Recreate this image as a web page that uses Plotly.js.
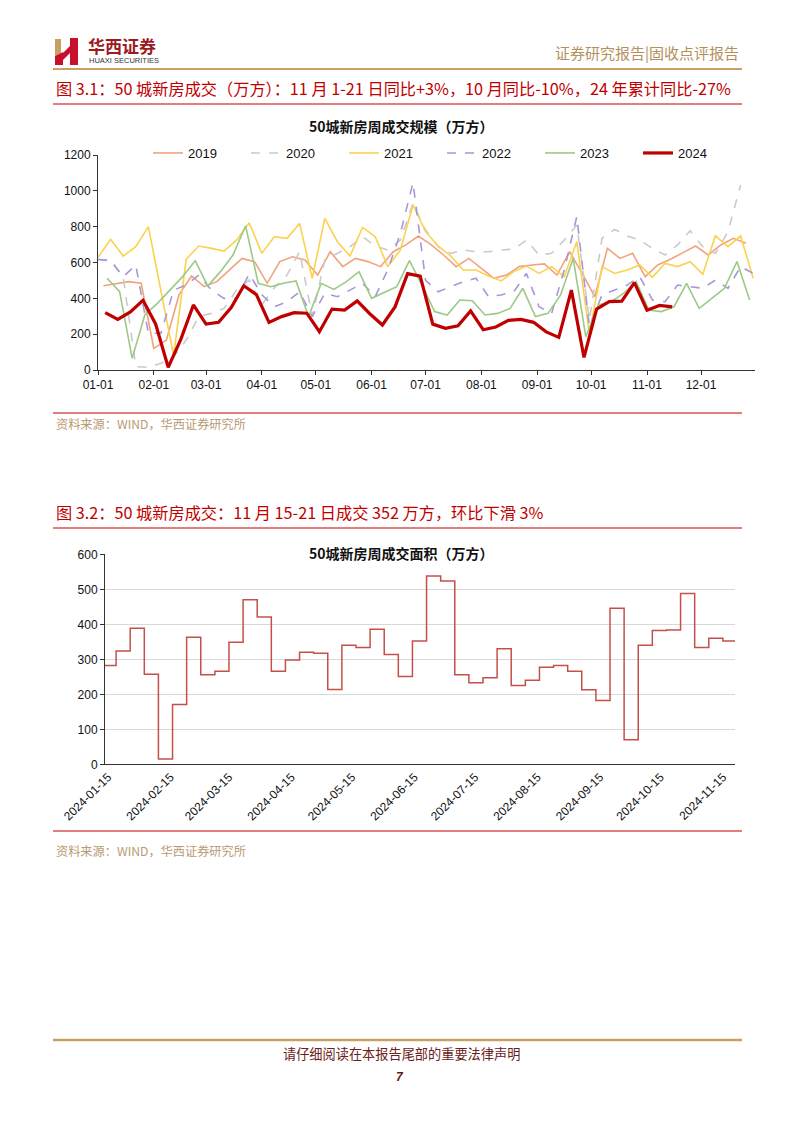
<!DOCTYPE html>
<html><head><meta charset="utf-8">
<script src="https://cdn.plot.ly/plotly-3.0.1.min.js"></script>
<style>html,body{margin:0;padding:0;background:#fff;}#chart{width:802px;height:1133px;}</style>
</head><body><div id="chart"></div>
<script>
// ---------- data ----------
const years = ['2019','2020','2021','2022','2023','2024'];
const seriesStart = ['2024-01-04','2024-01-01','2024-01-01','2024-01-01','2024-01-06','2024-01-05'];
const v2019 = [470,482,493,484,121,167,419,525,465,493,558,623,605,484,605,632,614,530,660,577,623,605,577,660,698,748,700,642,577,623,567,512,530,577,586,592,530,660,539,409,679,623,651,521,586,618,655,692,642,698,735,707];
const v2020 = [617,614,520,19,15,37,74,167,298,316,344,446,502,363,460,530,660,300,614,651,688,744,692,670,725,930,781,688,651,670,660,660,670,675,725,642,651,725,809,279,735,785,748,725,679,642,698,777,688,651,772,1032];
const v2021 = [629,729,636,688,800,450,80,618,692,679,664,725,822,651,744,735,818,512,846,716,636,796,744,577,670,921,772,692,636,558,558,525,497,549,580,539,577,521,716,205,577,539,558,586,517,595,577,604,534,750,688,748,512];
const v2022 = [617,610,520,586,205,205,446,474,530,446,400,400,536,420,353,381,437,298,428,409,446,484,409,560,763,1045,500,437,465,493,512,409,419,437,539,353,316,558,856,242,419,446,474,521,391,381,474,465,456,502,456,577,539];
const v2023 = [512,437,65,307,372,446,521,610,469,549,642,804,484,465,484,497,298,484,450,493,549,400,432,465,610,474,326,307,391,387,307,316,344,456,298,316,419,623,186,363,381,428,493,335,326,353,484,344,400,456,605,391];
const v2024 = [320,282,324,389,257,15,171,363,256,266,349,470,421,266,298,320,317,214,340,334,386,314,251,352,538,524,256,233,247,330,225,240,277,282,266,213,182,446,70,340,382,384,488,334,360,352];
const areaStart = '2024-01-12';
const areaEnd = '2024-11-21';
const yTicks1 = [0,200,400,600,800,1000,1200];
const yTicks2 = [0,100,200,300,400,500,600];

// ---------- helpers ----------
const W = 802, H = 1133;
const X = px => px / W;
const Y = py => 1 - py / H;
function weekly(startISO, n) {
  const out = [], t0 = Date.parse(startISO + 'T00:00:00Z');
  for (let i = 0; i < n; i++) out.push(new Date(t0 + i * 7 * 864e5).toISOString().slice(0, 10));
  return out;
}
const FONT = 'Liberation Sans, Arial, Noto Sans CJK SC, sans-serif';
const CJK = 'Noto Sans CJK SC, Liberation Sans, sans-serif';

const vals = [v2019, v2020, v2021, v2022, v2023, v2024];
const styles = [
  {color:'#F1A37C', width:1.6, dash:'solid'},
  {color:'#CACACA', width:1.6, dash:'dash'},
  {color:'#FAD24E', width:1.6, dash:'solid'},
  {color:'#A697D8', width:1.6, dash:'dash'},
  {color:'#9CC986', width:1.6, dash:'solid'},
  {color:'#C00000', width:3.2, dash:'solid'}
];

const traces = years.map((yr, i) => ({
  type:'scatter', mode:'lines', name: yr,
  x: weekly(seriesStart[i], vals[i].length), y: vals[i],
  line: Object.assign({}, styles[i]),
  xaxis:'x', yaxis:'y', showlegend:true
}));

const areaX = weekly(areaStart, v2024.length - 1).concat([areaEnd]);
const areaY = v2024.slice(1).concat([v2024[v2024.length - 1]]);
traces.push({
  type:'scatter', mode:'lines', name:'面积', x: areaX, y: areaY,
  line:{color:'#C5504B', width:1.5, shape:'hv'},
  xaxis:'x2', yaxis:'y2', showlegend:false
});

function hline(py, x0, x1, color, w) {
  return {type:'line', xref:'paper', yref:'paper', x0:X(x0), x1:X(x1), y0:Y(py), y1:Y(py), line:{color:color, width:w}};
}
function poly(pts, color) {
  const d = pts.map((p, i) => (i ? 'L' : 'M') + X(p[0]) + ',' + Y(p[1])).join(' ') + ' Z';
  return {type:'path', xref:'paper', yref:'paper', path:d, fillcolor:color, line:{width:0}};
}
function ann(text, px, py, size, color, opts) {
  return Object.assign({text:text, x:X(px), y:Y(py), xref:'paper', yref:'paper', showarrow:false,
    xanchor:'left', yanchor:'middle', font:{size:size, color:color, family:CJK}}, opts || {});
}

const shapes = [
  // logo
  poly([[55,39],[61,39],[61,53],[55,56]], '#C9A063'),
  poly([[55,56],[63,52],[63,65],[55,65]], '#C8102E'),
  poly([[70,38],[78,38],[78,65],[70,65]], '#C8102E'),
  poly([[58,58],[70,46],[70,53],[61,62]], '#C8102E'),
  // page lines
  hline(69, 53, 742, '#C9A063', 2),
  hline(104, 53, 742, '#C00000', 1.2),
  hline(413, 53, 742, '#C00000', 1.2),
  hline(528, 53, 742, '#C00000', 1.2),
  hline(831, 53, 742, '#C00000', 1.2),
  hline(1040, 53, 742, '#C9A063', 2.5)
];

const annotations = [
  ann('<b>华西证券</b>', 86, 45.5, 17, '#9B1B1F'),
  ann('HUAXI SECURITIES', 87, 60.5, 7.5, '#333333', {font:{size:7.5, color:'#333', family:FONT}}),
  ann('证券研究报告|固收点评报告', 741, 52, 15, '#B58F5C', {xanchor:'right'}),
  ann('图 3.1：50 城新房成交（万方）：11 月 1-21 日同比+3%，10 月同比-10%，24 年累计同比-27%', 54, 88, 16.2, '#C00000'),
  ann('<b>50城新房周成交规模（万方）</b>', 401, 126, 14, '#111111', {xanchor:'center'}),
  ann('资料来源：WIND，华西证券研究所', 54, 424, 12.2, '#B89B72'),
  ann('图 3.2：50 城新房成交：11 月 15-21 日成交 352 万方，环比下滑 3%', 54, 512, 16.2, '#C00000'),
  ann('<b>50城新房周成交面积（万方）</b>', 401, 553, 14, '#111111', {xanchor:'center', bgcolor:'#ffffff'}),
  ann('资料来源：WIND，华西证券研究所', 54, 851, 12.2, '#B89B72'),
  ann('请仔细阅读在本报告尾部的重要法律声明', 401, 1053, 13.2, '#6B2020', {xanchor:'center'}),
  ann('<b><i>7</i></b>', 400, 1077, 12, '#5C1A1A', {xanchor:'center', font:{size:12, color:'#5C1A1A', family:FONT}})
];

const layout = {
  width: W, height: H,
  margin:{l:0, r:0, t:0, b:0},
  paper_bgcolor:'#ffffff', plot_bgcolor:'rgba(0,0,0,0)',
  font:{family:FONT, size:12, color:'#111'},
  showlegend:true,
  legend:{orientation:'h', x:X(148), xanchor:'left', y:Y(153), yanchor:'middle',
    entrywidth:53, entrywidthmode:'pixels', font:{size:13, color:'#111', family:FONT},
    bgcolor:'rgba(0,0,0,0)', tracegroupgap:0, itemclick:false},
  xaxis:{domain:[X(98), X(755)], anchor:'y', type:'date',
    range:['2024-01-01','2024-12-31'], dtick:'M1', tick0:'2024-01-01', tickformat:'%m-%d',
    ticks:'outside', ticklen:4, tickcolor:'#333', showline:true, linecolor:'#333', linewidth:1,
    showgrid:false, zeroline:false, tickfont:{size:12, color:'#111'}},
  yaxis:{domain:[Y(370), Y(155)], anchor:'x', range:[0,1200], tickvals:yTicks1,
    ticks:'outside', ticklen:4, tickcolor:'#333', showline:true, linecolor:'#333', linewidth:1,
    showgrid:false, zeroline:false, tickfont:{size:12, color:'#111'}},
  xaxis2:{domain:[X(105), X(735)], anchor:'y2', type:'date',
    range:['2024-01-13 12:00','2024-11-21'], dtick:'M1', tick0:'2024-01-15', tickformat:'%Y-%m-%d',
    tickangle:-45, ticks:'', showline:true, linecolor:'#333', linewidth:1,
    showgrid:false, zeroline:false, tickfont:{size:12, color:'#111'}},
  yaxis2:{domain:[Y(764.3), Y(554.3)], anchor:'x2', range:[0,600], tickvals:yTicks2,
    ticks:'outside', ticklen:4, tickcolor:'#333', showline:true, linecolor:'#333', linewidth:1,
    showgrid:true, gridcolor:'#D9D9D9', gridwidth:1, zeroline:false, tickfont:{size:12, color:'#111'}},
  shapes: shapes,
  annotations: annotations
};

Plotly.newPlot('chart', traces, layout, {displayModeBar:false, staticPlot:true});
</script>
</body></html>
